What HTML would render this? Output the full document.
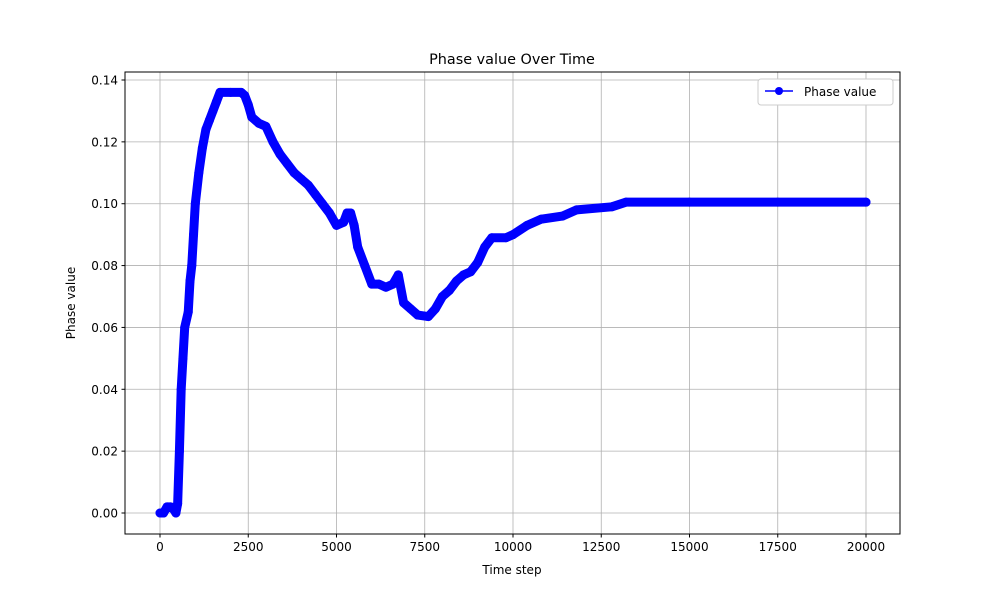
<!DOCTYPE html>
<html><head><meta charset="utf-8"><style>
body{margin:0;background:#fff;font-family:"Liberation Sans","DejaVu Sans",sans-serif}
svg text{font-family:"DejaVu Sans","Liberation Sans",sans-serif;fill:#000}
</style></head><body>
<svg id="chart" width="1000" height="600" viewBox="0 0 1000 600" xmlns="http://www.w3.org/2000/svg">
<rect width="1000" height="600" fill="#fff"/>
<g id="grid"></g>
<g id="series"></g>
<rect x="125" y="72" width="775" height="462" fill="none" stroke="#000" stroke-width="1"/>
<g id="ticks"></g>
<text x="512" y="64" font-size="14.4" text-anchor="middle">Phase value Over Time</text>
<text x="512" y="574" font-size="12" text-anchor="middle">Time step</text>
<text x="75" y="303" font-size="12" text-anchor="middle" transform="rotate(-90 75 303)">Phase value</text>
<g>
<rect x="758" y="79" width="135" height="26" rx="3" fill="#fff" stroke="#ccc"/>
<line x1="765" y1="91" x2="793" y2="91" stroke="#0000ff" stroke-width="1.5"/>
<circle cx="779" cy="91" r="4" fill="#0000ff"/>
<text x="804" y="96" font-size="12">Phase value</text>
</g>
</svg>
<script>
const times=[0,100,200,300,400,450,500,550,600,650,700,800,850,900,950,1000,1100,1200,1300,1400,1500,1600,1700,2000,2300,2400,2500,2600,2800,3000,3200,3400,3600,3800,4000,4200,4400,4600,4800,5000,5200,5300,5400,5500,5600,5800,6000,6200,6400,6600,6750,6900,7100,7300,7600,7800,8000,8200,8400,8600,8800,9000,9200,9400,9800,10000,10400,10800,11400,11800,12800,13200,15000,17500,20000];
const values=[0,0,0.002,0.002,0.001,0,0.003,0.02,0.04,0.05,0.06,0.065,0.075,0.08,0.09,0.1,0.11,0.118,0.124,0.127,0.13,0.133,0.136,0.136,0.136,0.135,0.132,0.128,0.126,0.125,0.12,0.116,0.113,0.11,0.108,0.106,0.103,0.1,0.097,0.093,0.094,0.097,0.097,0.093,0.086,0.08,0.074,0.074,0.073,0.074,0.077,0.068,0.066,0.064,0.0635,0.066,0.07,0.072,0.075,0.077,0.078,0.081,0.086,0.089,0.089,0.09,0.093,0.095,0.096,0.098,0.099,0.1005,0.1005,0.1005,0.1005];
const xTicks=[0,2500,5000,7500,10000,12500,15000,17500,20000];
const yTicks=[0,0.02,0.04,0.06,0.08,0.10,0.12,0.14];
const NS='http://www.w3.org/2000/svg';
const X=t=>160+t*706/20000;
const Y=v=>513-v*433/0.14;
function mk(tag,attrs,parent){const e=document.createElementNS(NS,tag);for(const k in attrs)e.setAttribute(k,attrs[k]);parent.appendChild(e);return e;}
const grid=document.getElementById('grid'),ticks=document.getElementById('ticks'),series=document.getElementById('series');
xTicks.forEach(t=>{const x=X(t);
 const g=mk('line',{x1:x,x2:x,y1:72,y2:534,stroke:'#b0b0b0','stroke-width':0.8},grid);
 
 
 mk('line',{x1:x,x2:x,y1:534,y2:537.5,stroke:'#000'},ticks);
 const tx=mk('text',{x:x,y:551,'font-size':12,'text-anchor':'middle'},ticks);tx.textContent=t;
 
 
});
yTicks.forEach(v=>{const y=Y(v);
 const g=mk('line',{x1:125,x2:900,y1:y,y2:y,stroke:'#b0b0b0','stroke-width':0.8},grid);
 
 
 mk('line',{x1:121.5,x2:125,y1:y,y2:y,stroke:'#000'},ticks);
 const tx=mk('text',{x:118,y:y+4.5,'font-size':12,'text-anchor':'end'},ticks);tx.textContent=v.toFixed(2);
 
 
});
const pts=times.map((t,i)=>X(t)+','+Y(values[i])).join(' ');
const band=mk('polyline',{points:pts,fill:'none',stroke:'#0000ff','stroke-width':9,'stroke-linejoin':'round','stroke-linecap':'round'},series);


times.forEach((t,i)=>{const c=mk('circle',{cx:X(t),cy:Y(values[i]),r:4.5,fill:'#0000ff'},series);
 
 
});
</script>
</body></html>
